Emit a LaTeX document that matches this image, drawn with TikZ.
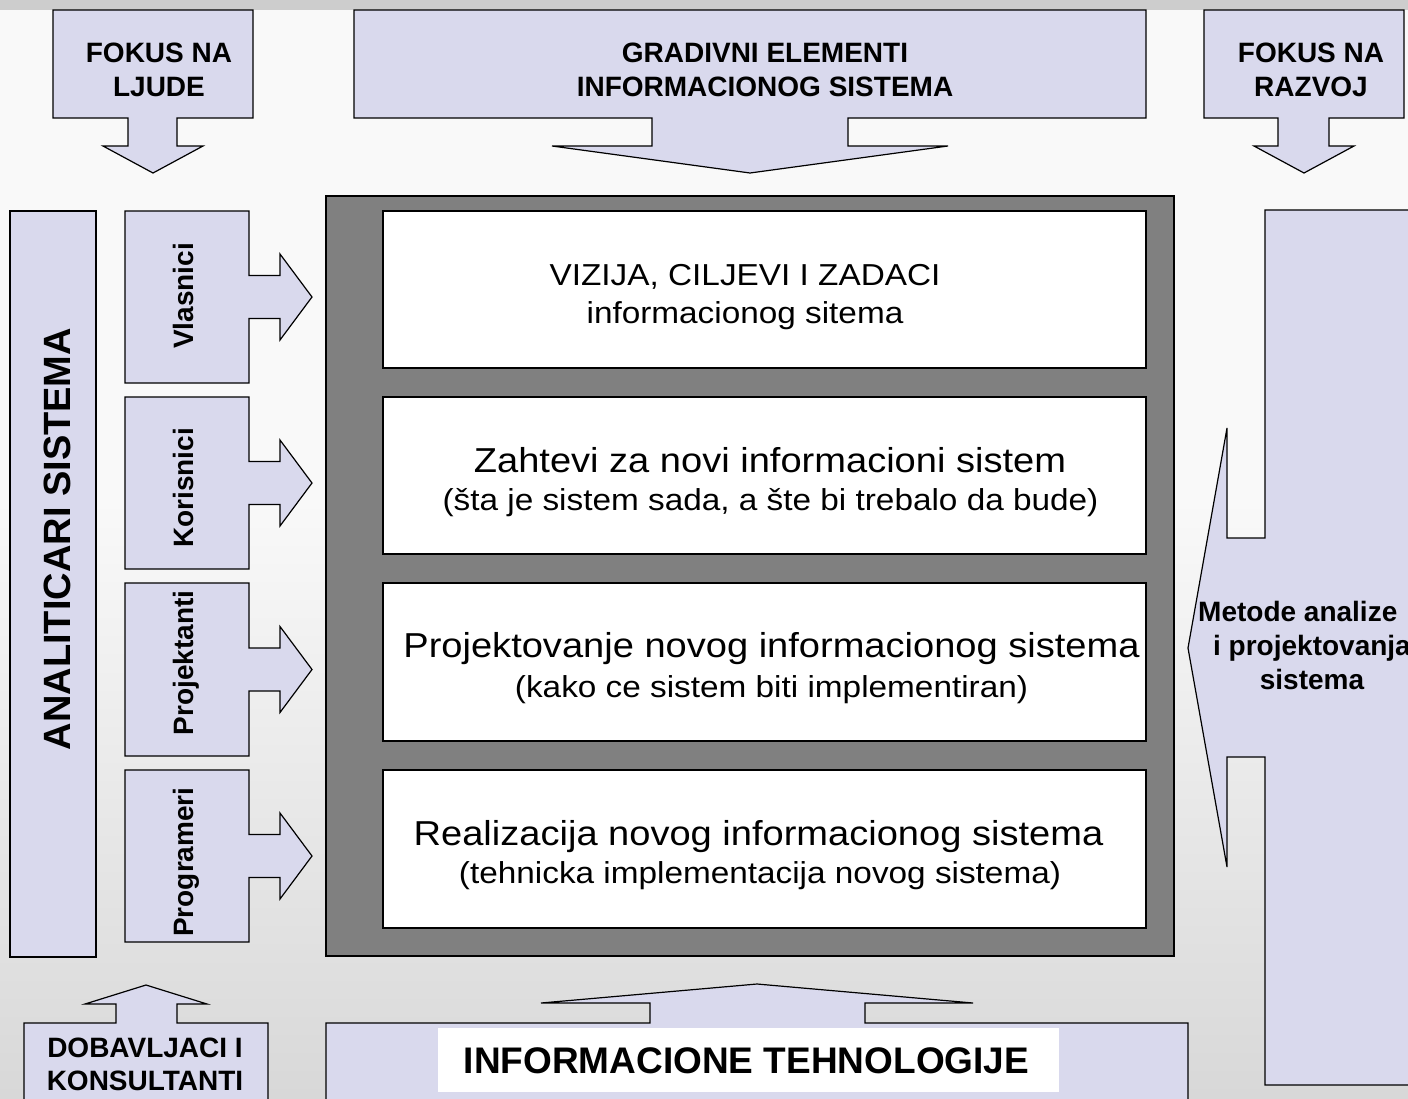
\documentclass[tikz,border=0pt]{standalone}
\usepackage{fontspec}
\setmainfont{Liberation Sans}
\newfontfamily\wdfont[FakeStretch=1.1]{Liberation Sans}
\definecolor{lav}{HTML}{D9D9ED}
\definecolor{darkbox}{HTML}{808080}
\definecolor{bgstrip}{HTML}{CDCDCD}
\definecolor{bgtop}{HTML}{F9F9F9}
\definecolor{bgbot}{HTML}{D8D8D8}
\tikzset{
  shapeline/.style={draw=black, line width=1.2pt, line join=miter},
  lavshape/.style={shapeline, fill=lav},
  bt/.style={font=\fontsize{28}{34}\selectfont\bfseries, inner sep=0pt, anchor=base},
  bigt/.style={font=\wdfont\fontsize{34.6}{40}\selectfont, inner sep=0pt, anchor=base},
  subt/.style={font=\wdfont\fontsize{30.3}{36}\selectfont, inner sep=0pt, anchor=base},
  vt/.style={bt, rotate=90}
}
\begin{document}
\begin{tikzpicture}[x=1pt,y=-1pt]
\useasboundingbox (0,0) rectangle (1408,1098);
\clip (0,0) rectangle (1408,1098);
% background
\fill[bgtop] (0,10) rectangle (1408,500);
\shade[top color=bgtop, bottom color=bgbot] (0,500) rectangle (1408,1098);
\fill[bgstrip] (0,0) rectangle (1408,10);

% top callouts
\draw[lavshape] (53,10) -- (253,10) -- (253,118) -- (177,118) -- (177,146) -- (203,146) -- (153,173) -- (103,146) -- (128,146) -- (128,118) -- (53,118) -- cycle;
\draw[lavshape] (354,10) -- (1146,10) -- (1146,118) -- (848,118) -- (848,146) -- (948,146) -- (750,173) -- (552,146) -- (652,146) -- (652,118) -- (354,118) -- cycle;
\draw[lavshape] (1204,10) -- (1404,10) -- (1404,118) -- (1329,118) -- (1329,146) -- (1354,146) -- (1304,173) -- (1254,146) -- (1278,146) -- (1278,118) -- (1204,118) -- cycle;

\node[bt] (fl1) at (159,62) {FOKUS NA};
\node[bt] (fl2) at (159,96) {LJUDE};
\node[bt] (ge1) at (765,62) {GRADIVNI ELEMENTI};
\node[bt] (ge2) at (765,96) {INFORMACIONOG SISTEMA};
\node[bt] (fr1) at (1311,62) {FOKUS NA};
\node[bt] (fr2) at (1311,96) {RAZVOJ};

% left column
\draw[lavshape] (10,211) rectangle (96,957);
\node[font=\fontsize{38}{44}\selectfont\bfseries, inner sep=0pt, anchor=base, rotate=90] (an) at (70,539) {ANALITICARI SISTEMA};

% role callouts with right arrows
\foreach \t/\b in {211/383, 397/569, 583/756, 770/942}{
  \pgfmathsetmacro{\c}{(\t+\b)/2}
  \draw[lavshape] (125,\t) -- (249,\t) -- (249,\c-21.5) -- (280,\c-21.5) -- (280,\c-43) -- (312,\c) -- (280,\c+43) -- (280,\c+21.5) -- (249,\c+21.5) -- (249,\b) -- (125,\b) -- cycle;
}
\node[vt] (vl) at (193,296) {Vlasnici};
\node[vt] (ko) at (193,488) {Korisnici};
\node[vt] (pr) at (193,663) {Projektanti};
\node[vt] (pg) at (193,862) {Programeri};

% central container
\draw[shapeline, fill=darkbox] (326,196) rectangle (1174,956);
\draw[shapeline, fill=white] (383,211) rectangle (1146,368);
\draw[shapeline, fill=white] (383,397) rectangle (1146,554);
\draw[shapeline, fill=white] (383,583) rectangle (1146,741);
\draw[shapeline, fill=white] (383,770) rectangle (1146,928);

\node[subt] (b1a) at (745,285) {VIZIJA, CILJEVI I ZADACI};
\node[subt] (b1b) at (745,323) {informacionog sitema};
\node[bigt] (b2a) at (770,472) {Zahtevi za novi informacioni sistem};
\node[subt] (b2b) at (770.5,510) {(šta je sistem sada, a šte bi trebalo da bude)};
\node[bigt] (b3a) at (771.5,657) {Projektovanje novog informacionog sistema};
\node[subt] (b3b) at (771.5,697) {(kako ce sistem biti implementiran)};
\node[bigt] (b4a) at (758.5,845) {Realizacija novog informacionog sistema};
\node[subt] (b4b) at (760,883) {(tehnicka implementacija novog sistema)};

% right callout
\draw[lavshape] (1265,210) -- (1420,210) -- (1420,1085) -- (1265,1085) -- (1265,757) -- (1227,757) -- (1227,867) -- (1188,648) -- (1227,428) -- (1227,538) -- (1265,538) -- cycle;
\node[bt, anchor=base west] (me1) at (1198,621) {Metode analize};
\node[bt] (me2) at (1312,655) {i projektovanja};
\node[bt] (me3) at (1312,689) {sistema};

% bottom callouts
\draw[lavshape] (24,1110) -- (24,1023) -- (116,1023) -- (116,1004) -- (85,1004) -- (146,985) -- (207,1004) -- (177,1004) -- (177,1023) -- (268,1023) -- (268,1110);
\node[bt] (do1) at (145,1057) {DOBAVLJACI I};
\node[bt] (do2) at (145,1090) {KONSULTANTI};

\draw[lavshape] (326,1110) -- (326,1023) -- (650,1023) -- (650,1003) -- (541,1003) -- (757,984) -- (973,1003) -- (865,1003) -- (865,1023) -- (1188,1023) -- (1188,1110);
\fill[white] (438,1028) rectangle (1059,1092);
\node[font=\fontsize{37}{44}\selectfont\bfseries, inner sep=0pt, anchor=base] (it) at (746.5,1073) {INFORMACIONE TEHNOLOGIJE};
\end{tikzpicture}
\end{document}
